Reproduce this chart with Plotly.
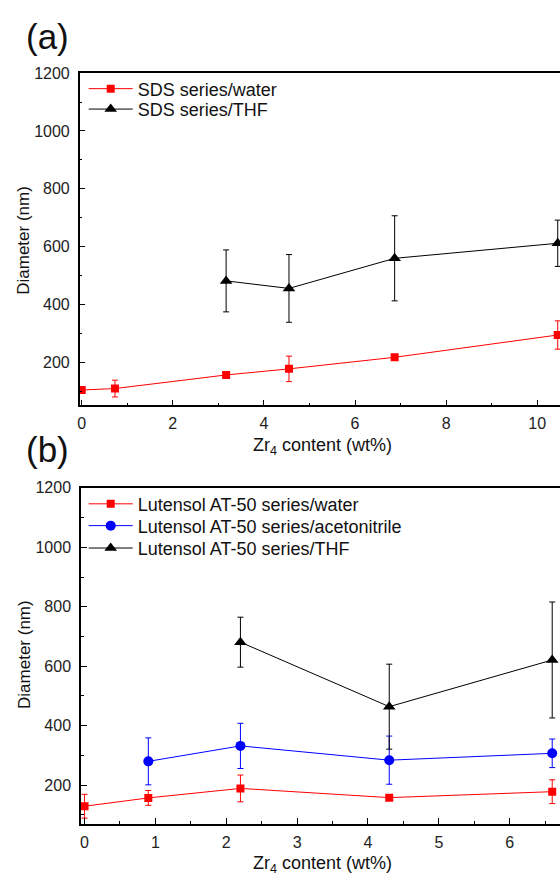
import plotly.graph_objects as go

# Panel (a): SDS series
sds_water_x = [0.0, 0.73, 3.17, 4.55, 6.87, 10.45]
sds_water_y = [105, 110, 157, 178, 218, 295]
sds_water_err = [0, 29, 0, 44, 0, 49]

sds_thf_x = [3.17, 4.55, 6.87, 10.45]
sds_thf_y = [482, 456, 560, 612]
sds_thf_err = [107, 117, 147, 80]

# Panel (b): Lutensol AT-50 series
lut_water_x = [0.0, 0.9, 2.2, 4.3, 6.6]
lut_water_y = [129, 157, 189, 158, 178]
lut_water_err = [40, 25, 45, 0, 40]

lut_acn_x = [0.9, 2.2, 4.3, 6.6]
lut_acn_y = [280, 332, 284, 307]
lut_acn_err = [79, 76, 81, 48]

lut_thf_x = [2.2, 4.3, 6.6]
lut_thf_y = [681, 464, 621]
lut_thf_err = [84, 143, 195]

W, H = 560, 876
FONT = "Liberation Sans, Arial, sans-serif"


def px_x(p):
    return p / W


def px_y(p):
    return 1 - p / H


fig = go.Figure()


def add(x, y, err, name, color, symbol, size, xa, ya, legend):
    fig.add_trace(go.Scatter(
        x=x, y=y, name=name, mode="lines+markers",
        line=dict(color=color, width=1),
        marker=dict(symbol=symbol, size=size, color=color),
        error_y=dict(type="data", array=err, visible=True, color=color,
                     thickness=1, width=3),
        xaxis=xa, yaxis=ya, legend=legend,
    ))


add(sds_water_x, sds_water_y, sds_water_err, "SDS series/water", "#ff0000", "square", 8, "x", "y", "legend")
add(sds_thf_x, sds_thf_y, sds_thf_err, "SDS series/THF", "#000000", "triangle-up", 11, "x", "y", "legend2")
add(lut_water_x, lut_water_y, lut_water_err, "Lutensol AT-50 series/water", "#ff0000", "square", 8, "x2", "y2", "legend3")
add(lut_acn_x, lut_acn_y, lut_acn_err, "Lutensol AT-50 series/acetonitrile", "#0000ff", "circle", 10, "x2", "y2", "legend4")
add(lut_thf_x, lut_thf_y, lut_thf_err, "Lutensol AT-50 series/THF", "#000000", "triangle-up", 11, "x2", "y2", "legend5")

axis_common = dict(
    showline=True, linecolor="#000000", linewidth=1.5,
    ticks="inside", ticklen=6, tickwidth=1.3, tickcolor="#000000",
    showgrid=False, zeroline=False,
    tickfont=dict(family=FONT, size=16, color="#222222"),
)

legend_common = dict(
    xanchor="left", yanchor="middle", bgcolor="rgba(0,0,0,0)",
    font=dict(family=FONT, size=18, color="#111111"),
    tracegroupgap=0, itemsizing="trace", itemwidth=44,
)

fig.update_layout(
    width=W, height=H,
    margin=dict(l=0, r=0, t=0, b=0),
    paper_bgcolor="white", plot_bgcolor="white",
    showlegend=True,
    xaxis=dict(domain=[px_x(78), 1], range=[-0.044, 10.5], anchor="y",
               dtick=2, tick0=0, mirror=True, ticklabelstandoff=3,
               minor=dict(ticks="inside", ticklen=3, dtick=1, tickcolor="#000000"),
               **axis_common),
    yaxis=dict(domain=[px_y(401), px_y(65.7)], range=[52, 1200], anchor="x",
               dtick=200, tick0=0, mirror=False, ticklabelstandoff=5,
               minor=dict(ticks="inside", ticklen=3, dtick=100, tickcolor="#000000"),
               **axis_common),
    xaxis2=dict(domain=[px_x(79.3), 1], range=[-0.05, 6.71], anchor="y2",
                dtick=1, tick0=0, mirror=True, ticklabelstandoff=3,
                minor=dict(ticks="inside", ticklen=3, dtick=0.5, tickcolor="#000000"),
                **axis_common),
    yaxis2=dict(domain=[px_y(823.3), px_y(484.3)], range=[70, 1200], anchor="x2",
                dtick=200, tick0=0, mirror=False, ticklabelstandoff=5,
                minor=dict(ticks="inside", ticklen=3, dtick=100, tickcolor="#000000"),
                **axis_common),
    legend=dict(x=px_x(82), y=px_y(81.7), **legend_common),
    legend2=dict(x=px_x(82), y=px_y(102.3), **legend_common),
    legend3=dict(x=px_x(82), y=px_y(500.7), **legend_common),
    legend4=dict(x=px_x(82), y=px_y(522.7), **legend_common),
    legend5=dict(x=px_x(82), y=px_y(545.3), **legend_common),
)

annots = [
    dict(text="(a)", x=px_x(46), y=px_y(29), font=dict(size=35)),
    dict(text="(b)", x=px_x(46), y=px_y(446), font=dict(size=35)),
    dict(text="Zr<sub>4</sub> content (wt%)", x=px_x(322), y=px_y(443), font=dict(size=18)),
    dict(text="Zr<sub>4</sub> content (wt%)", x=px_x(322), y=px_y(864), font=dict(size=18)),
    dict(text="Diameter (nm)", x=px_x(22), y=px_y(234), font=dict(size=17), textangle=-90),
    dict(text="Diameter (nm)", x=px_x(22), y=px_y(652), font=dict(size=17), textangle=-90),
]
for a in annots:
    f = a.pop("font")
    fig.add_annotation(xref="paper", yref="paper", xanchor="center", yanchor="middle",
                       showarrow=False, font=dict(family=FONT, color="#111111", **f), **a)

fig.write_html("out.html")
